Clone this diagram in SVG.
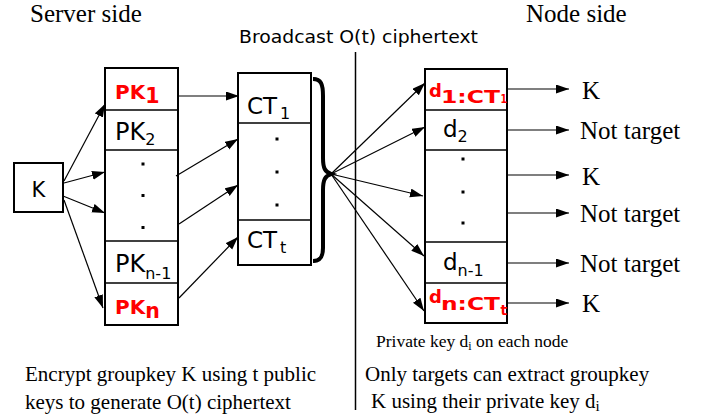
<svg xmlns="http://www.w3.org/2000/svg" width="710" height="420" viewBox="0 0 710 420">
<defs>
<marker id="ah" markerUnits="userSpaceOnUse" markerWidth="14" markerHeight="10" refX="13" refY="4.5" orient="auto">
<path d="M0,0 L13,4.5 L0,9 z" fill="#000"/>
</marker>
<style>
.box{fill:#fff;stroke:#000;stroke-width:2}
.div{stroke:#000;stroke-width:1.6}
.sans{font-family:"DejaVu Sans",Verdana,sans-serif;fill:#000}
.serif{font-family:"Liberation Serif","Times New Roman",serif;fill:#000}
.red{font-family:"DejaVu Sans",Verdana,sans-serif;font-weight:bold;fill:#ff0000}
.arr{stroke:#000;stroke-width:1.2;fill:none;marker-end:url(#ah)}
.dot{fill:#000}
</style>
</defs>
<rect width="710" height="420" fill="#fff"/>

<text class="serif" x="30" y="22" font-size="25">Server side</text>
<text class="serif" x="526" y="22" font-size="25">Node side</text>
<text class="sans" x="239" y="43" font-size="17.5" textLength="239" lengthAdjust="spacingAndGlyphs">Broadcast O(t) ciphertext</text>
<line x1="355.5" y1="52" x2="355.5" y2="410" stroke="#000" stroke-width="1.5"/>

<g id="nodeK">
<rect class="box" x="14" y="163" width="49" height="49"/>
<text class="sans" x="38.5" y="197" font-size="21" text-anchor="middle">K</text>
</g>

<g id="pkColumn">
<rect class="box" x="105" y="68" width="73" height="257"/>
<line class="div" x1="105" y1="110" x2="178" y2="110"/>
<line class="div" x1="105" y1="150" x2="178" y2="150"/>
<line class="div" x1="105" y1="241" x2="178" y2="241"/>
<line class="div" x1="105" y1="283" x2="178" y2="283"/>
<text class="red" x="115" y="99.3" font-size="20">PK<tspan y="103.3" font-size="20.5">1</tspan></text>
<text class="sans" x="115" y="140" font-size="24">PK<tspan font-size="16" y="145">2</tspan></text>
<rect class="dot" x="141.5" y="162.5" width="3" height="3"/>
<rect class="dot" x="141.5" y="194" width="3" height="3"/>
<rect class="dot" x="141.5" y="226" width="3" height="3"/>
<text class="sans" x="115" y="271.5" font-size="24">PK<tspan font-size="16" y="279">n-1</tspan></text>
<text class="red" x="115" y="313.7" font-size="20">PK<tspan y="318" font-size="20.5">n</tspan></text>
</g>

<g id="ctColumn">
<rect class="box" x="238" y="73" width="73" height="192"/>
<line class="div" x1="238" y1="123" x2="311" y2="123"/>
<line class="div" x1="238" y1="220" x2="311" y2="220"/>
<text class="sans" x="247" y="114" font-size="23">CT<tspan font-size="16" y="119" dx="3">1</tspan></text>
<rect class="dot" x="275.5" y="137.5" width="3" height="3"/>
<rect class="dot" x="275.5" y="170.5" width="3" height="3"/>
<rect class="dot" x="275.5" y="203.5" width="3" height="3"/>
<text class="sans" x="247" y="248" font-size="23">CT<tspan font-size="16" y="253" dx="3">t</tspan></text>
</g>

<g id="brace">
<path d="M313,79 C321,79 323,84 323,96 L323,158 C323,168 325,172 331,174 C325,176 323,180 323,190 L323,248 C323,257 320,261 313,261" fill="none" stroke="#000" stroke-width="4"/>
<path d="M313,77.5 C318,77.5 322,80 323.5,86 L321,86 C320,82 317,80.5 313,80.5 z" fill="#000"/>
<path d="M313,262.5 C318,262.5 322,260 323.5,254 L321,254 C320,258 317,259.5 313,259.5 z" fill="#000"/>
</g>

<g id="dColumn">
<rect class="box" x="425" y="69" width="82" height="254"/>
<line class="div" x1="425" y1="110" x2="507" y2="110"/>
<line class="div" x1="425" y1="150" x2="507" y2="150"/>
<line class="div" x1="425" y1="242" x2="507" y2="242"/>
<line class="div" x1="425" y1="283" x2="507" y2="283"/>
<text class="red" x="429" y="96.7" font-size="18">d</text>
<text class="red" x="441" y="102.7" font-size="17" textLength="59" lengthAdjust="spacingAndGlyphs">1:CT</text>
<text class="red" x="500.5" y="103.3" font-size="11.5" textLength="6.5" lengthAdjust="spacingAndGlyphs">1</text>
<text class="sans" x="443" y="137" font-size="23">d<tspan font-size="16" y="141.5">2</tspan></text>
<rect class="dot" x="461.5" y="157.5" width="3" height="3"/>
<rect class="dot" x="461.5" y="190.5" width="3" height="3"/>
<rect class="dot" x="461.5" y="221.5" width="3" height="3"/>
<text class="sans" x="443" y="270" font-size="23">d<tspan font-size="16" y="276">n-1</tspan></text>
<text class="red" x="429" y="303" font-size="18">d</text>
<text class="red" x="441" y="309.7" font-size="17" textLength="59" lengthAdjust="spacingAndGlyphs">n:CT</text>
<text class="red" x="500.5" y="315" font-size="14" textLength="6.5" lengthAdjust="spacingAndGlyphs">t</text>
</g>

<g id="results" class="serif" font-size="25">
<text class="serif" x="582" y="99">K</text>
<text class="serif" x="580" y="139">Not target</text>
<text class="serif" x="582" y="185">K</text>
<text class="serif" x="580" y="222">Not target</text>
<text class="serif" x="580" y="272">Not target</text>
<text class="serif" x="582" y="312">K</text>
</g>

<g id="connectors">
<line class="arr" x1="64" y1="181" x2="105" y2="104"/>
<line class="arr" x1="64" y1="183" x2="105" y2="172"/>
<line class="arr" x1="63" y1="196" x2="105" y2="213"/>
<line class="arr" x1="64" y1="200" x2="103" y2="308"/>
<line class="arr" x1="178" y1="96" x2="239" y2="96"/>
<line class="arr" x1="176" y1="176" x2="238" y2="139"/>
<line class="arr" x1="179" y1="224" x2="238" y2="185"/>
<line class="arr" x1="179" y1="298" x2="238" y2="237"/>
<line class="arr" x1="331" y1="174" x2="425" y2="83"/>
<line class="arr" x1="331" y1="174" x2="425" y2="127"/>
<line class="arr" x1="331" y1="174" x2="423" y2="196"/>
<line class="arr" x1="331" y1="174" x2="424" y2="256"/>
<line class="arr" x1="331" y1="174" x2="424" y2="311"/>
<line class="arr" x1="507" y1="89" x2="569" y2="89"/>
<line class="arr" x1="507" y1="130" x2="569" y2="130"/>
<line class="arr" x1="507" y1="175" x2="569" y2="175"/>
<line class="arr" x1="507" y1="213" x2="569" y2="213"/>
<line class="arr" x1="507" y1="263" x2="569" y2="263"/>
<line class="arr" x1="507" y1="303" x2="569" y2="303"/>
</g>

<text class="serif" x="376" y="347" font-size="17.5">Private key d<tspan font-size="12" y="350">i</tspan><tspan y="347"> on each node</tspan></text>
<text class="serif" x="25" y="381" font-size="21">Encrypt groupkey K using t public</text>
<text class="serif" x="25" y="409" font-size="21">keys to generate O(t) ciphertext</text>
<text class="serif" x="365" y="381" font-size="21">Only targets can extract groupkey</text>
<text class="serif" x="371" y="408" font-size="21">K using their private key d<tspan font-size="15" y="411">i</tspan></text>
</svg>
